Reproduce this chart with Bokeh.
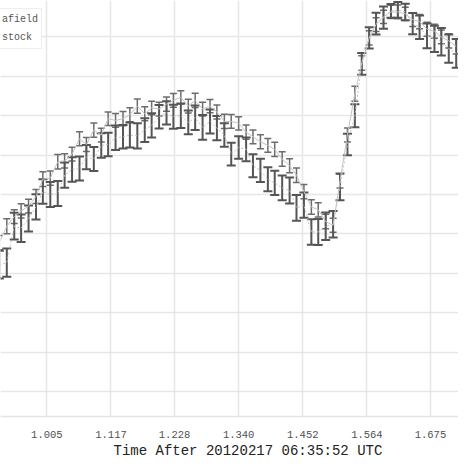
import numpy as np
from bokeh.plotting import figure
from bokeh.models import (ColumnDataSource, Whisker, TeeHead, FixedTicker,
                          NumeralTickFormatter, Legend, LegendItem, Title)
from bokeh.embed import file_html
from bokeh.resources import INLINE

# time after 20120217 06:35:52 UTC
t = [0.922, 0.935, 0.948, 0.960, 0.973, 0.986, 0.998, 1.011, 1.024, 1.036,
     1.049, 1.062, 1.074, 1.087, 1.100, 1.112, 1.125, 1.138, 1.150, 1.163,
     1.176, 1.188, 1.201, 1.214, 1.226, 1.239, 1.252, 1.264, 1.277, 1.290,
     1.302, 1.315, 1.327, 1.340, 1.353, 1.365, 1.378, 1.391, 1.403, 1.416,
     1.429, 1.441, 1.454, 1.467, 1.479, 1.492, 1.505, 1.517, 1.530, 1.543,
     1.555, 1.568, 1.580, 1.593, 1.606, 1.618, 1.631, 1.644, 1.656, 1.669,
     1.682, 1.694, 1.707, 1.720]

# upper series (small error bars)
afield = [0.9756, 0.9839, 0.9888, 0.9917, 0.9941, 0.9990, 1.0078, 1.0083, 1.0166, 1.0171,
          1.0205, 1.0283, 1.0254, 1.0327, 1.0302, 1.0385, 1.0376, 1.0385, 1.0405, 1.0449,
          1.0410, 1.0439, 1.0434, 1.0459, 1.0478, 1.0493, 1.0449, 1.0478, 1.0434, 1.0449,
          1.0419, 1.0371, 1.0371, 1.0361, 1.0317, 1.0293, 1.0268, 1.0249, 1.0229, 1.0180,
          1.0146, 1.0098, 1.0015, 0.9937, 0.9922, 0.9863, 0.9844, 1.0068, 1.0302, 1.0512,
          1.0668, 1.0795, 1.0863, 1.0902, 1.0927, 1.0927, 1.0917, 1.0888, 1.0878, 1.0839,
          1.0829, 1.0800, 1.0780, 1.0751]
afield_err = [0.0036, 0.0038, 0.0035, 0.0036, 0.0035, 0.0036, 0.0037, 0.0036, 0.0037, 0.0036,
              0.0035, 0.0036, 0.0035, 0.0036, 0.0035, 0.0034, 0.0035, 0.0036, 0.0035, 0.0036,
              0.0035, 0.0034, 0.0035, 0.0036, 0.0035, 0.0034, 0.0035, 0.0036, 0.0035, 0.0034,
              0.0035, 0.0036, 0.0035, 0.0034, 0.0036, 0.0035, 0.0036, 0.0035, 0.0036, 0.0037,
              0.0036, 0.0037, 0.0036, 0.0037, 0.0036, 0.0037, 0.0036, 0.0035, 0.0036, 0.0038,
              0.0037, 0.0036, 0.0035, 0.0034, 0.0034, 0.0035, 0.0034, 0.0035, 0.0036, 0.0035,
              0.0036, 0.0035, 0.0036, 0.0037]

# lower series (large error bars)
stock = [0.9644, 0.9654, 0.9839, 0.9829, 0.9878, 0.9937, 1.0015, 1.0000, 1.0005, 1.0098,
         1.0127, 1.0132, 1.0190, 1.0180, 1.0249, 1.0254, 1.0288, 1.0293, 1.0302, 1.0298,
         1.0327, 1.0351, 1.0395, 1.0415, 1.0395, 1.0400, 1.0366, 1.0390, 1.0341, 1.0371,
         1.0337, 1.0302, 1.0205, 1.0239, 1.0229, 1.0146, 1.0122, 1.0078, 1.0059, 1.0034,
         1.0020, 0.9932, 0.9946, 0.9810, 0.9810, 0.9839, 0.9849, 1.0039, 1.0254, 1.0400,
         1.0663, 1.0795, 1.0868, 1.0898, 1.0932, 1.0937, 1.0927, 1.0868, 1.0849, 1.0805,
         1.0790, 1.0776, 1.0741, 1.0717]
stock_err = [0.0070, 0.0072, 0.0068, 0.0070, 0.0066, 0.0064, 0.0062, 0.0064, 0.0063, 0.0064,
             0.0062, 0.0061, 0.0062, 0.0061, 0.0062, 0.0060, 0.0062, 0.0060, 0.0063, 0.0064,
             0.0060, 0.0061, 0.0060, 0.0059, 0.0061, 0.0062, 0.0060, 0.0062, 0.0063, 0.0061,
             0.0062, 0.0060, 0.0058, 0.0057, 0.0060, 0.0058, 0.0059, 0.0061, 0.0062, 0.0063,
             0.0066, 0.0065, 0.0064, 0.0065, 0.0066, 0.0070, 0.0067, 0.0068, 0.0055, 0.0058,
             0.0055, 0.0054, 0.0055, 0.0056, 0.0035, 0.0040, 0.0042, 0.0054, 0.0060, 0.0063,
             0.0067, 0.0070, 0.0072, 0.0073]

x_ticks = [1.005, 1.117, 1.228, 1.340, 1.452, 1.564, 1.675]
y_ticks = [0.90, 0.92, 0.94, 0.96, 0.98, 1.00, 1.02, 1.04, 1.06, 1.08]
x_title = "Time After 20120217 06:35:52 UTC"

MONO = "Liberation Mono"

p = figure(width=458, height=458, x_range=(0.924, 1.724), y_range=(0.8873, 1.0985),
           output_backend="svg", toolbar_location=None,
           min_border_left=0, min_border_right=0, min_border_top=0, min_border_bottom=40)
p.outline_line_color = None
p.background_fill_color = "white"

p.yaxis.visible = False
p.xaxis.ticker = FixedTicker(ticks=x_ticks)
p.xgrid.ticker = FixedTicker(ticks=x_ticks)
p.ygrid.ticker = FixedTicker(ticks=y_ticks)
p.xaxis.formatter = NumeralTickFormatter(format="0.000")
p.xaxis.major_tick_line_color = None
p.xaxis.minor_tick_line_color = None
p.xaxis.axis_line_color = "#e4e4e4"
p.xaxis.axis_line_width = 1.5
p.xaxis.major_label_text_font = MONO
p.xaxis.major_label_text_font_size = "10.5px"
p.xaxis.major_label_text_color = "#505050"
p.xaxis.major_label_standoff = 8

for g in (p.xgrid, p.ygrid):
    g.grid_line_color = "#e6e6e6"
    g.grid_line_width = 1.5

src_a = ColumnDataSource(dict(t=t, y=afield,
                              lo=np.array(afield) - np.array(afield_err),
                              hi=np.array(afield) + np.array(afield_err)))
src_b = ColumnDataSource(dict(t=t, y=stock,
                              lo=np.array(stock) - np.array(stock_err),
                              hi=np.array(stock) + np.array(stock_err)))

la = p.line("t", "y", source=src_a, line_color="#c4c4c4", line_width=1)
lb = p.line("t", "y", source=src_b, line_color="#c4c4c4", line_width=1, line_dash="2 2")

wa = Whisker(source=src_a, base="t", lower="lo", upper="hi", dimension="height",
             line_color="#6c6c6c", line_width=1.5,
             upper_head=TeeHead(size=7, line_color="#6c6c6c", line_width=1.5),
             lower_head=TeeHead(size=7, line_color="#6c6c6c", line_width=1.5))
wb = Whisker(source=src_b, base="t", lower="lo", upper="hi", dimension="height",
             line_color="#555555", line_width=2,
             upper_head=TeeHead(size=9, line_color="#555555", line_width=2),
             lower_head=TeeHead(size=9, line_color="#555555", line_width=2))
p.add_layout(wa)
p.add_layout(wb)

# axis title: the original frame continues to the left, so it sits right of centre
p.add_layout(Title(text=x_title, align="left", offset=113, standoff=0,
                   text_font=MONO, text_font_size="14px", text_font_style="normal",
                   text_color="#222222"), "below")

legend = Legend(items=[LegendItem(label="afield", renderers=[la]),
                       LegendItem(label="stock", renderers=[lb])],
                location=(-22, 367), orientation="vertical",
                label_text_font=MONO, label_text_font_size="10px",
                label_text_color="#555555", border_line_color="#dddddd",
                background_fill_color="white", background_fill_alpha=1.0,
                padding=3, spacing=3, margin=0, label_height=15, glyph_height=15,
                glyph_width=15, label_standoff=5)
p.add_layout(legend)

open("out.html", "w").write(file_html(p, INLINE))
